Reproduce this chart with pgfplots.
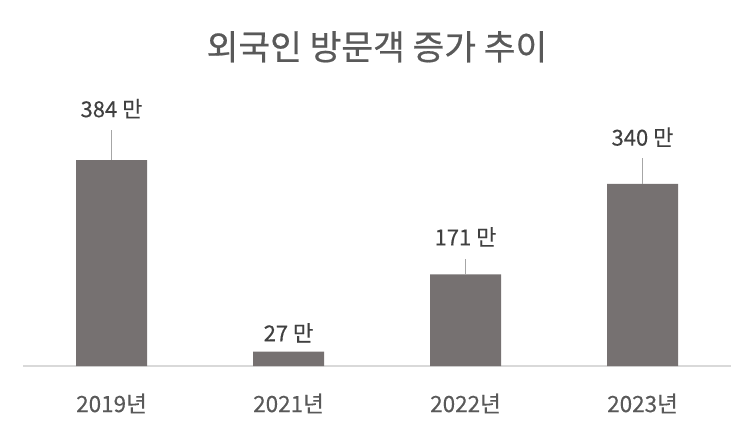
\documentclass[border=0pt]{standalone}
\usepackage{fontspec}
\setmainfont{Noto Sans CJK KR}
\newfontfamily\titlefont[FakeBold=0.6]{Noto Sans CJK KR}
\newfontfamily\lblfont[FakeBold=0.3]{Noto Sans CJK KR}
\usepackage{pgfplots}
\pgfplotsset{compat=1.18}

\definecolor{barcol}{HTML}{767171}
\definecolor{txtcol}{HTML}{595959}
\definecolor{lblcol}{HTML}{404040}
\definecolor{leadcol}{HTML}{A6A6A6}
\definecolor{basecol}{HTML}{D9D9D9}

\begin{document}
\begin{tikzpicture}
\begin{axis}[
  name=ax,
  scale only axis,
  width=708bp, height=286bp,
  xmin=-0.5, xmax=3.5,
  ymin=0, ymax=533.6,
  axis y line=none,
  axis x line*=bottom,
  x axis line style={basecol, line width=1.2pt, -},
  xtick={0,1,2,3},
  xticklabels={2019년,2021년,2022년,2023년},
  major tick length=0pt,
  xticklabel style={font=\lblfont\fontsize{22.5bp}{26bp}\selectfont, text=txtcol, yshift=-24bp},
  /pgf/number format/assume math mode=true,
  clip=false,
  title={외국인 방문객 증가 추이},
  title style={font=\titlefont\fontsize{34.5bp}{40bp}\selectfont, text=txtcol, yshift=8bp},
]
% bars with leader lines (error bars upward)
\addplot[ybar, bar width=71bp, bar shift=0pt, fill=barcol, draw=none,
  error bars/.cd, y dir=plus, y explicit,
  error bar style={leadcol, line width=0.8pt}, error mark=none]
  coordinates {
  (0,384) +- (0,56)
  (1,27)  +- (0,0)
  (2,171) +- (0,28)
  (3,340) +- (0,48)
};
% data labels
\addplot[draw=none, mark=none, point meta=explicit symbolic,
  nodes near coords,
  nodes near coords style={anchor=center, font=\lblfont\fontsize{22bp}{26bp}\selectfont, text=lblcol}]
  coordinates {
  (0,480) [384 만]
  (1,62)  [27 만]
  (2,241) [171 만]
  (3,427) [340 만]
};
\end{axis}
\pgfresetboundingbox
\path[use as bounding box] ([shift={(-23bp,-72bp)}]ax.south west) rectangle ([shift={(731bp,366bp)}]ax.south west);
\end{tikzpicture}
\end{document}
